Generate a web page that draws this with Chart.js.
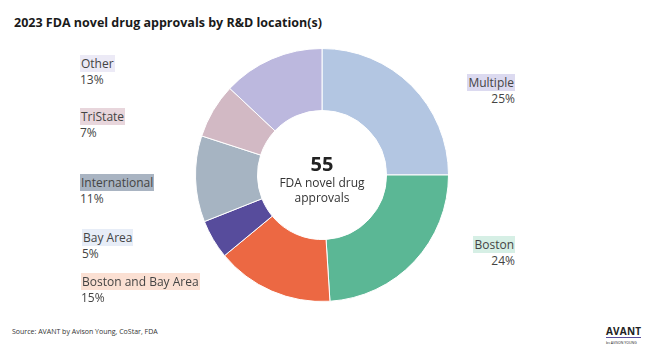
<!DOCTYPE html>
<html>
<head>
<meta charset="utf-8">
<script src="https://cdn.jsdelivr.net/npm/chart.js@4/dist/chart.umd.min.js"></script>
<style>
  body { margin: 0; width: 653px; height: 344px; background: #fff; font-family: "Open Sans", sans-serif; position: relative; overflow: hidden; }
  #title { position: absolute; left: 14px; top: 14px; font-size: 12.5px; font-weight: 700; color: #1a1a1a; }
  #wrap { position: absolute; left: 195px; top: 48px; width: 254px; height: 254px; }
  .lbl { position: absolute; font-size: 12px; line-height: 16px; color: #444; }
  .lbl span.name { padding: 0 1px; }
  .right { text-align: right; }
  #center { position: absolute; left: 257px; top: 153px; width: 130px; text-align: center; color: #222; }
  #center .big { font-size: 20px; font-weight: 700; line-height: 22px; }
  #center .sub { font-size: 12px; line-height: 15px; color: #333; }
  #source { position: absolute; left: 12px; top: 327px; font-size: 7px; color: #333; }
  #logo { position: absolute; left: 606px; top: 318px; color: #222; }
  #logo .a { font-size: 10px; font-weight: 700; letter-spacing: 0.2px; line-height: 11px; border-bottom: 1.5px solid #574c9c; display: inline-block; }
  #logo .b { font-size: 3.5px; line-height: 5px; white-space: nowrap; }
</style>
</head>
<body>
<div id="title">2023 FDA novel drug approvals by R&amp;D location(s)</div>
<div id="wrap"><canvas id="donut"></canvas></div>
<div id="center"><div class="big">55</div><div class="sub">FDA novel drug<br>approvals</div></div>
<div id="source">Source: AVANT by Avison Young, CoStar, FDA</div>
<div id="logo"><span class="a">AVANT</span><div class="b">by AVISON YOUNG</div></div>
<script>
// share of approvals by R&D location, clockwise from 12 o'clock
var locations = ['Multiple', 'Boston', 'Boston and Bay Area', 'Bay Area', 'International', 'TriState', 'Other'];
var shares = [25, 24, 15, 5, 11, 7, 13];
var totalApprovals = 55;

var sliceColors = ['#b3c6e2', '#5bb795', '#ec6843', '#574c9c', '#a6b4c2', '#d2b9c4', '#bcb8de'];
var tagColors = ['#dcdaf0', '#d6efe5', '#fbe0d3', '#e7edf7', '#a9b4c2', '#e8d6dc', '#eceaf6'];
// where each label sits: [left or right edge, top, side]
var labelSpots = [
  [515, 75, 'r'],
  [515, 237, 'r'],
  [81, 274, 'l'],
  [82, 230, 'l'],
  [80, 175, 'l'],
  [80, 109, 'l'],
  [80, 56, 'l']
];

locations.forEach(function (name, i) {
  var d = document.createElement('div');
  var spot = labelSpots[i];
  d.className = 'lbl' + (spot[2] == 'r' ? ' right' : '');
  if (spot[2] == 'r') {
    d.style.right = (653 - spot[0]) + 'px';
  } else {
    d.style.left = spot[0] + 'px';
  }
  d.style.top = spot[1] + 'px';
  d.innerHTML = '<span class="name" style="background:' + tagColors[i] + '">' + name + '</span><br>' + shares[i] + '%';
  document.body.appendChild(d);
});

document.querySelector('#center .big').textContent = totalApprovals;

var chart = new Chart(document.getElementById('donut'), {
  type: 'doughnut',
  data: {
    labels: locations,
    datasets: [{
      data: shares,
      backgroundColor: sliceColors,
      borderColor: '#ffffff',
      borderWidth: 1
    }]
  },
  options: {
    responsive: true,
    maintainAspectRatio: false,
    animation: false,
    cutout: '51%',
    layout: { padding: 0 },
    plugins: {
      legend: { display: false },
      tooltip: { enabled: false }
    }
  }
});
</script>
</body>
</html>
